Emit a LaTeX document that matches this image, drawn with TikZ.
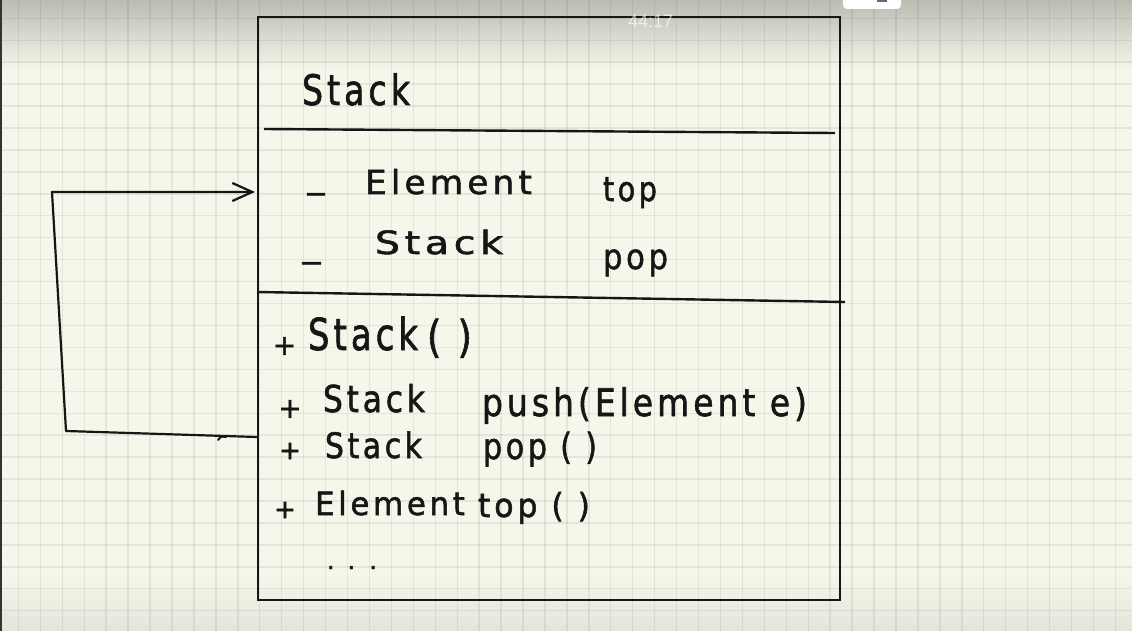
\documentclass[tikz,border=0pt]{standalone}
\usepackage{fontspec}
\usepackage{graphicx}
\usetikzlibrary{arrows.meta}
\newfontfamily\handfont[LetterSpace=12,FakeBold=1.6]{DejaVu Sans}
\newfontfamily\clockfont{Liberation Sans}
\definecolor{paper}{HTML}{F6F7EA}
\definecolor{papertop}{HTML}{BBBCB2}
\definecolor{paperbot}{HTML}{E4E5DA}
\definecolor{ink}{HTML}{161616}
\definecolor{uiblue}{HTML}{5A6B80}
\newcommand{\hwtxt}[3]{\fontsize{#1}{#1}\selectfont\resizebox{#2}{\height}{#3}}
\tikzset{
  gridline/.style={draw=black, opacity=0.065, line width=1.4pt},
  boxline/.style={draw=ink, line width=2.4pt},
  conn/.style={draw=ink, line width=2.2pt, line join=round},
  hw/.style={anchor=base west, inner sep=0pt, outer sep=0pt, text=ink, font=\handfont},
  plus/.style={anchor=center, inner sep=0pt, outer sep=0pt, text=ink, font=\handfont},
}
\begin{document}
\begin{tikzpicture}[x=1pt, y=-1pt]
\useasboundingbox (0,0) rectangle (1132,631);
\clip (0,0) rectangle (1132,631);
% paper
\fill[paper] (0,0) rectangle (1132,631);
\shade[top color=papertop, bottom color=paper] (0,0) rectangle (1132,70);
\shade[top color=paper, bottom color=paperbot] (0,575) rectangle (1132,631);
\foreach \i in {0,...,51} {\pgfmathsetmacro\gx{18.4+21.94*\i}\draw[gridline] (\gx,0) -- (\gx,631);}
\foreach \j in {0,...,28} {\pgfmathsetmacro\gy{18.3+21.94*\j}\draw[gridline] (0,\gy) -- (1132,\gy);}
\fill[black!80] (0,0) rectangle (2,631);
% class box
\node[boxline, anchor=north west, minimum width=582pt, minimum height=583pt, inner sep=0pt] (cls) at (257,16) {};
\draw[boxline] (264,129) -- (835,133);
\draw[boxline] (257,292) -- (845,302);
% title
\node[hw] (title) at (302,105) {\hwtxt{42}{108pt}{Stack}};
% attributes
\node[hw] (d1) at (305,203) {\hwtxt{32}{22pt}{–}};
\node[hw] (a1type) at (365,194) {\hwtxt{33}{167pt}{Element}};
\node[hw] (a1name) at (603,201) {\hwtxt{34}{54pt}{top}};
\node[hw] (d2) at (300,272) {\hwtxt{32}{23pt}{–}};
\node[hw] (a2type) at (375,254) {\hwtxt{32}{128pt}{Stack}};
\node[hw] (a2name) at (603,269) {\hwtxt{35}{65pt}{pop}};
% methods
\node[plus] (m1plus) at (284.5,346) {\fontsize{28}{28}\selectfont +};
\node[hw] (m1type) at (308,350) {\hwtxt{44}{110pt}{Stack}};
\node[hw] (m1par) at (427,352) {\hwtxt{44}{45pt}{( )}};
\node[plus] (m2plus) at (290,409) {\fontsize{28}{28}\selectfont +};
\node[hw] (m2type) at (323,412) {\hwtxt{37}{102pt}{Stack}};
\node[hw] (m2name) at (482,416) {\hwtxt{38}{325pt}{push(Element e)}};
\node[plus] (m3plus) at (290,451) {\fontsize{26}{26}\selectfont +};
\node[hw] (m3type) at (325,458) {\hwtxt{35}{97pt}{Stack}};
\node[hw] (m3name) at (483,459) {\hwtxt{36}{114pt}{pop ( )}};
\node[plus] (m4plus) at (285,510) {\fontsize{26}{26}\selectfont +};
\node[hw] (m4type) at (315,515) {\hwtxt{32}{150pt}{Element}};
\node[hw] (m4name) at (478,517) {\hwtxt{33}{112pt}{top ( )}};
\node[hw] (more) at (327,569) {\fontsize{24}{24}\selectfont .\hspace{13pt}.\hspace{14pt}.};
% self association
\coordinate (src) at (257,437);
\coordinate (dst) at (255,192);
\draw[conn, -{Straight Barb[length=20pt, width=18pt]}] (src) -- (66,431) -- (52,192) -- (dst);
\draw[conn, line width=2pt, line cap=round] (218,440) .. controls (221,436) and (223,436) .. (226,437);
% video overlay
\node[anchor=base west, inner sep=0pt, text=white, opacity=0.65, font=\clockfont\fontsize{18}{18}\selectfont] (clock) at (628,28) {44:17};
\fill[white, rounded corners=4pt] (843,-6) rectangle (901,9);
\fill[uiblue] (877,-2) rectangle (887,1.8);
\end{tikzpicture}
\end{document}
